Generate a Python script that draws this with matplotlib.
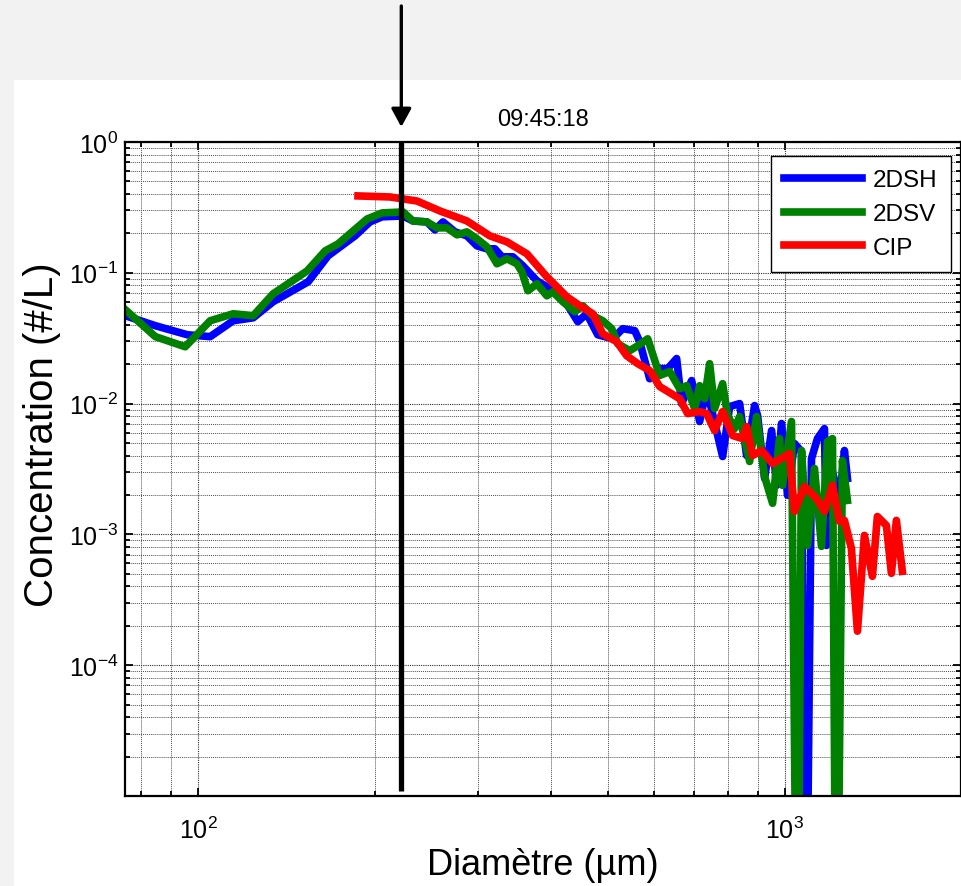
import numpy as np
import matplotlib
matplotlib.use('Agg')
import matplotlib.pyplot as plt
from matplotlib.patches import Rectangle
from matplotlib.ticker import FixedLocator, FixedFormatter, NullFormatter, LogLocator

plt.rcParams['font.family'] = ['Liberation Sans', 'DejaVu Sans']
plt.rcParams['mathtext.default'] = 'regular'

# 2DSH size distribution
d_2dsh = [75.1, 84.5, 95.8, 104.8, 114.7, 124.1, 134.2, 154.0, 166.5, 185.1, 196.3, 205.9,
          223.5, 232.4, 245.5, 253.3, 261.5, 274.1, 287.3, 298.8, 310.7, 320.6, 329.6, 344.1,
          357.9, 378.1, 393.2, 418.7, 430.3, 444.0, 459.9, 480.2, 509.3, 529.7, 555.3, 566.3,
          588.8, 612.4, 632.0, 654.6, 667.6, 694.4, 716.5, 736.5, 784.2, 806.1, 838.3, 861.7,
          889.1, 899.6, 924.7, 950.5, 969.2, 988.3, 1011.8, 1040.0, 1069.0, 1085.9, 1111.7,
          1138.1, 1169.8, 1179.2, 1207.2, 1240.7, 1265.3, 1280.2]
c_2dsh = [0.047, 0.0394, 0.0336, 0.0325, 0.043, 0.0453, 0.0601, 0.0854, 0.1349, 0.1916, 0.245, 0.268,
          0.272, 0.249, 0.245, 0.213, 0.245, 0.2056, 0.1916, 0.1607, 0.1525, 0.1525, 0.1325, 0.1325,
          0.1131, 0.0869, 0.0782, 0.0633, 0.0531, 0.0423, 0.0486, 0.0336, 0.0313, 0.0374, 0.0361, 0.0297,
          0.0155, 0.0185, 0.0185, 0.0221, 0.0100, 0.0150, 0.0073, 0.0130, 0.00394, 0.00949, 0.0100, 0.00401,
          0.00966, 0.0081, 0.00268, 0.00622, 0.00237, 0.00704, 0.00199, 0.00495, 0.0043, 1e-7, 0.0038,
          0.0054, 0.00644, 0.000824, 0.00303, 0.00179, 0.00438, 0.00268]

# 2DSV size distribution
d_2dsv = [75.1, 78.1, 84.5, 95.0, 104.8, 114.7, 124.1, 134.2, 153.4, 164.6, 173.2, 194.1, 205.9,
          223.5, 232.4, 245.5, 255.4, 265.6, 276.3, 287.3, 298.8, 310.7, 323.2, 336.1, 349.5, 356.5,
          365.0, 378.1, 393.2, 402.6, 418.7, 438.8, 452.8, 470.9, 489.7, 507.3, 519.4, 544.5, 561.9,
          584.3, 612.4, 637.0, 662.4, 680.8, 702.6, 716.5, 730.7, 745.2, 759.9, 784.2, 799.8, 822.0,
          838.3, 871.9, 896.1, 924.7, 954.2, 980.6, 992.2, 1027.8, 1052.0, 1069.0, 1094.4, 1124.9,
          1156.1, 1183.8, 1207.2, 1226.2, 1255.4, 1280.2]
c_2dsv = [0.0522, 0.0446, 0.0325, 0.0272, 0.043, 0.0486, 0.047, 0.0691, 0.1035, 0.147, 0.1665, 0.258, 0.287,
          0.292, 0.249, 0.245, 0.2206, 0.2206, 0.195, 0.2056, 0.1818, 0.158, 0.1172, 0.128, 0.1172, 0.1018,
          0.0729, 0.0824, 0.0667, 0.0716, 0.0601, 0.0504, 0.056, 0.047, 0.043, 0.0374, 0.0287, 0.0254, 0.0277,
          0.0313, 0.0164, 0.0176, 0.0130, 0.0137, 0.00916, 0.0137, 0.0109, 0.0202, 0.00916, 0.0142, 0.0081, 0.00644,
          0.00796, 0.00361, 0.00796, 0.00277, 0.00173, 0.0054, 0.00237, 0.0073, 1e-7, 0.00438, 0.000824, 0.00319,
          0.00081, 0.00513, 0.0054, 1e-7, 0.00367, 0.00182]

# CIP size distribution
d_cip = [187.3, 212.4, 236.1, 258.4, 287.3, 314.4, 336.1, 363.6, 393.2, 425.3, 447.5, 470.9, 489.7,
         517.3, 538.1, 561.9, 588.8, 612.4, 662.4, 683.5, 716.5, 736.5, 759.9, 784.2, 815.6, 848.2,
         861.7, 882.2, 913.9, 954.2, 1019.8, 1040.0, 1081.6, 1133.7, 1169.8, 1207.2, 1240.7, 1265.3,
         1300.4, 1331.6, 1368.6, 1412.2, 1440.1, 1492.1, 1521.6, 1551.7, 1588.5]
c_cip = [0.387, 0.380, 0.354, 0.297, 0.249, 0.1916, 0.1724, 0.1396, 0.0932, 0.0656, 0.056, 0.0486, 0.0342,
         0.0297, 0.0232, 0.0202, 0.0179, 0.0135, 0.0109, 0.00839, 0.00869, 0.00839, 0.00622, 0.00869, 0.0057, 0.0054,
         0.00667, 0.00401, 0.00438, 0.00348, 0.00415, 0.0015, 0.00232, 0.00188, 0.0015, 0.00237, 0.00126, 0.00128,
         0.000782, 0.000182, 0.000983, 0.000478, 0.00137, 0.00117, 0.000504, 0.00128, 0.000522]

vline_d = 222.0
vline_c = [1.1e-5, 1.0]
title_txt = '09:45:18'
y_major = [1e-4, 1e-3, 1e-2, 1e-1, 1e0]
y_labels = ['$10^{-4}$', '$10^{-3}$', '$10^{-2}$', '$10^{-1}$', '$10^{0}$']
x_major = [100, 1000]
x_labels = ['$10^{2}$', '$10^{3}$']

W, H = 961, 887
fig = plt.figure(figsize=(W / 100, H / 100), dpi=100, facecolor='#f2f2f2')
fig.patches.append(Rectangle((14 / W, 0), 1, (H - 81) / H, transform=fig.transFigure,
                             facecolor='white', edgecolor='none', zorder=-10))

ax = fig.add_axes([125 / W, (H - 797) / H, (W - 125) / W, (797 - 143) / H])
ax.set_xscale('log')
ax.set_yscale('log')

lw = 5.5
ax.plot(d_2dsh, c_2dsh, color='#0000ff', lw=lw, label='2DSH', solid_joinstyle='round')
ax.plot(d_2dsv, c_2dsv, color='#008000', lw=lw, label='2DSV', solid_joinstyle='round')
ax.plot(d_cip, c_cip, color='#ff0000', lw=lw, label='CIP', solid_joinstyle='round')
ax.plot([vline_d, vline_d], vline_c, color='black', lw=3.8, solid_capstyle='butt')

ax.set_xlim(75, 2000)
ax.set_ylim(1e-5, 1)

ax.xaxis.set_major_locator(FixedLocator(x_major))
ax.xaxis.set_major_formatter(FixedFormatter(x_labels))
ax.xaxis.set_minor_locator(LogLocator(base=10, subs=np.arange(2, 10)))
ax.xaxis.set_minor_formatter(NullFormatter())
ax.yaxis.set_major_locator(FixedLocator(y_major + [1e-5]))
ax.yaxis.set_major_formatter(FixedFormatter(y_labels + ['']))
ax.yaxis.set_minor_locator(LogLocator(base=10, subs=np.arange(2, 10)))
ax.yaxis.set_minor_formatter(NullFormatter())

ax.grid(True, which='major', color='#303030', linestyle=(0, (1, 1)), lw=0.8)
ax.grid(True, which='minor', color='#505050', linestyle=(0, (1, 1)), lw=0.7)
ax.tick_params(which='both', direction='in', top=True, right=True, width=1.3, labelsize=18)
ax.tick_params(which='major', length=6)
ax.tick_params(which='minor', length=3.5)
ax.tick_params(axis='x', pad=15)
ax.tick_params(axis='y', pad=5)
for s in ax.spines.values():
    s.set_linewidth(1.6)

ax.set_title(title_txt, fontsize=17, pad=12)

fig.text(543 / W, 1 - 866 / H, 'Diamètre (µm)', fontsize=26, ha='center', va='center')
fig.text(42 / W, 1 - 435 / H, 'Concentration (#/L)', fontsize=29, ha='center', va='center', rotation=90)

leg = ax.legend(loc='upper right', bbox_to_anchor=((951 - 125) / (W - 125), (797 - 157) / (797 - 143)),
                borderaxespad=0, fontsize=17.5, handlelength=3.2, handletextpad=0.45,
                labelspacing=0.48, borderpad=0.55, fancybox=False, framealpha=1)
leg.get_frame().set_edgecolor('black')
leg.get_frame().set_linewidth(1.0)
for ln in leg.get_lines():
    ln.set_linewidth(5.5)

ax.annotate('', xy=(vline_d, 1 - 128 / H), xycoords=('data', 'figure fraction'),
            xytext=(vline_d, 1 - 7 / H), textcoords=('data', 'figure fraction'),
            arrowprops=dict(arrowstyle='-|>,head_length=1.1,head_width=0.6', color='black',
                            lw=2.4, shrinkA=0, shrinkB=0), annotation_clip=False)

fig.savefig('out.png', dpi=100, facecolor=fig.get_facecolor())
